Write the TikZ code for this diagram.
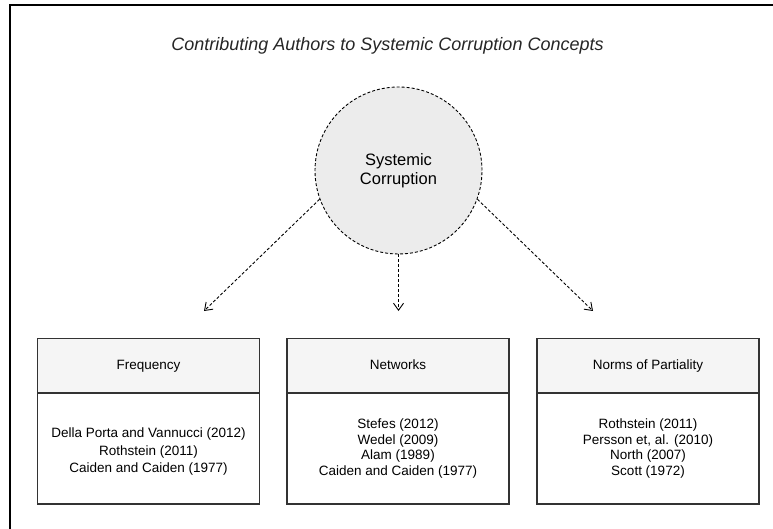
\documentclass[tikz,border=0pt]{standalone}
\usepackage{fontspec}
\setmainfont{Liberation Sans}
\usetikzlibrary{arrows.meta}
\definecolor{circfill}{HTML}{ECECEC}
\definecolor{headfill}{HTML}{F5F5F5}
\definecolor{boxline}{HTML}{333333}
\begin{document}
\begin{tikzpicture}[x=1pt,y=-1pt,
  headbox/.style={draw=boxline,line width=1.1pt,fill=headfill,minimum width=222pt,minimum height=55pt,inner sep=0pt,text height=10pt,text depth=3pt,font=\fontsize{13.5}{16}\selectfont},
  bodybox/.style={draw=boxline,line width=1.1pt,fill=white,minimum width=222pt,minimum height=111pt,inner sep=0pt},
  bodytext/.style={align=center,inner sep=0pt},
  arr/.style={draw=black,line width=0.9pt,dash pattern=on 3pt off 2pt,-{Straight Barb[length=7pt,width=10pt]}}]
\useasboundingbox (0,0) rectangle (773,529);
\fill[white] (0,0) rectangle (773,529);
\draw[line width=1.6pt] (10,529) -- (10,5) -- (773,5);
\node[font=\fontsize{18}{20}\selectfont\itshape,text=black!85] (title) at (387.5,46) {Contributing Authors to Systemic Corruption Concepts};
\node[circle,draw=black,fill=circfill,line width=0.9pt,dash pattern=on 3pt off 2pt,minimum size=167pt,inner sep=0pt,align=center,font=\fontsize{16.5}{18.5}\selectfont] (sc) at (398.5,170.5) {Systemic\\Corruption};
\node[headbox] (h1) at (148.5,366) {Frequency};
\node[headbox] (h2) at (398,366) {Networks};
\node[headbox] (h3) at (648,366) {Norms of Partiality};
\node[bodybox] (b1) at (148.5,448.5) {};
\node[bodybox] (b2) at (398,448.5) {};
\node[bodybox] (b3) at (648,448.5) {};
\node[bodytext,font=\fontsize{13.5}{17.5}\selectfont] (b1t) at (148.5,452) {Della Porta and Vannucci (2012)\\Rothstein (2011)\\Caiden and Caiden (1977)};
\node[bodytext,font=\fontsize{13.5}{15.7}\selectfont] (b2t) at (398,448.5) {Stefes (2012)\\Wedel (2009)\\Alam (1989)\\Caiden and Caiden (1977)};
\node[bodytext,font=\fontsize{13.5}{15.7}\selectfont] (b3t) at (648,448.5) {Rothstein (2011)\\Persson et, al. (2010)\\North (2007)\\Scott (1972)};
\coordinate (t1) at (204,311);
\coordinate (t2) at (398.5,311);
\coordinate (t3) at (593,311);
\draw[arr] (sc.200) -- (t1);
\draw[arr] (sc.south) -- (t2);
\draw[arr] (sc.-20) -- (t3);
\end{tikzpicture}
\end{document}
